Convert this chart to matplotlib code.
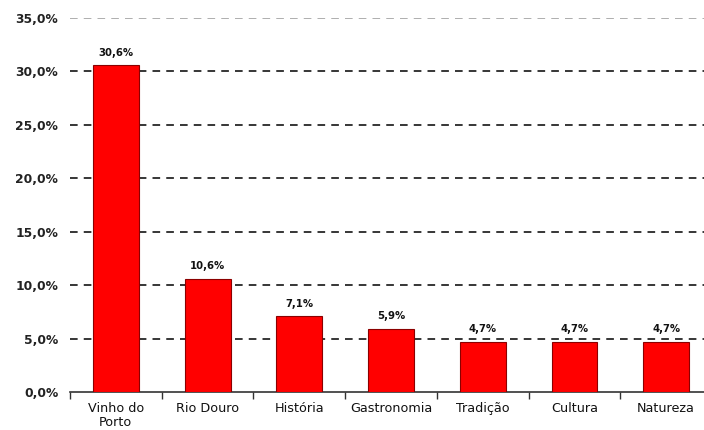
import matplotlib
matplotlib.use("Agg")
import matplotlib.pyplot as plt
import numpy as np

categories = ["Vinho do\nPorto", "Rio Douro", "História", "Gastronomia", "Tradição", "Cultura", "Natureza"]
values = [30.6, 10.6, 7.1, 5.9, 4.7, 4.7, 4.7]
value_labels = ["30,6%", "10,6%", "7,1%", "5,9%", "4,7%", "4,7%", "4,7%"]
yticks = [0, 5, 10, 15, 20, 25, 30, 35]
ytick_labels = ["0,0%", "5,0%", "10,0%", "15,0%", "20,0%", "25,0%", "30,0%", "35,0%"]

plt.rcParams['font.family'] = ['DejaVu Sans']

fig = plt.figure(figsize=(7.04, 4.30), dpi=100)
ax = fig.add_axes([70/704, 38/430, 642/704, 374/430])

x = np.arange(len(categories))
ax.bar(x, values, width=0.5, color="#ff0000", edgecolor="#8b0000", linewidth=0.8, zorder=3)

for xi, v, lab in zip(x, values, value_labels):
    ax.text(xi, v + 0.7, lab, ha="center", va="bottom", fontsize=7.3, fontweight="bold", color="#111111")

ax.set_xlim(-0.5, len(categories) - 0.5)
ax.set_ylim(0, 35)

for yv in yticks[1:]:
    col = "#999999" if yv == 35 else "black"
    ax.axhline(yv, color=col, linestyle=(0, (5, 4)), linewidth=1.1, zorder=1)

ax.set_yticks(yticks)
ax.set_yticklabels(ytick_labels, fontsize=8.8, fontweight="bold", color="#222222")
ax.tick_params(axis="y", length=0, pad=8.5)

ax.set_xticks(x)
ax.set_xticklabels(categories, fontsize=9.2, color="#111111", linespacing=1.1)
ax.tick_params(axis="x", which="major", length=0, pad=7)
ax.set_xticks(np.arange(-0.5, len(categories), 1.0), minor=True)
ax.tick_params(axis="x", which="minor", length=5, width=1, color="#333333", direction="out")

for s in ["top", "right", "left"]:
    ax.spines[s].set_visible(False)
ax.spines["bottom"].set_color("#333333")
ax.spines["bottom"].set_linewidth(1.2)

fig.savefig("out.png", dpi=100)
